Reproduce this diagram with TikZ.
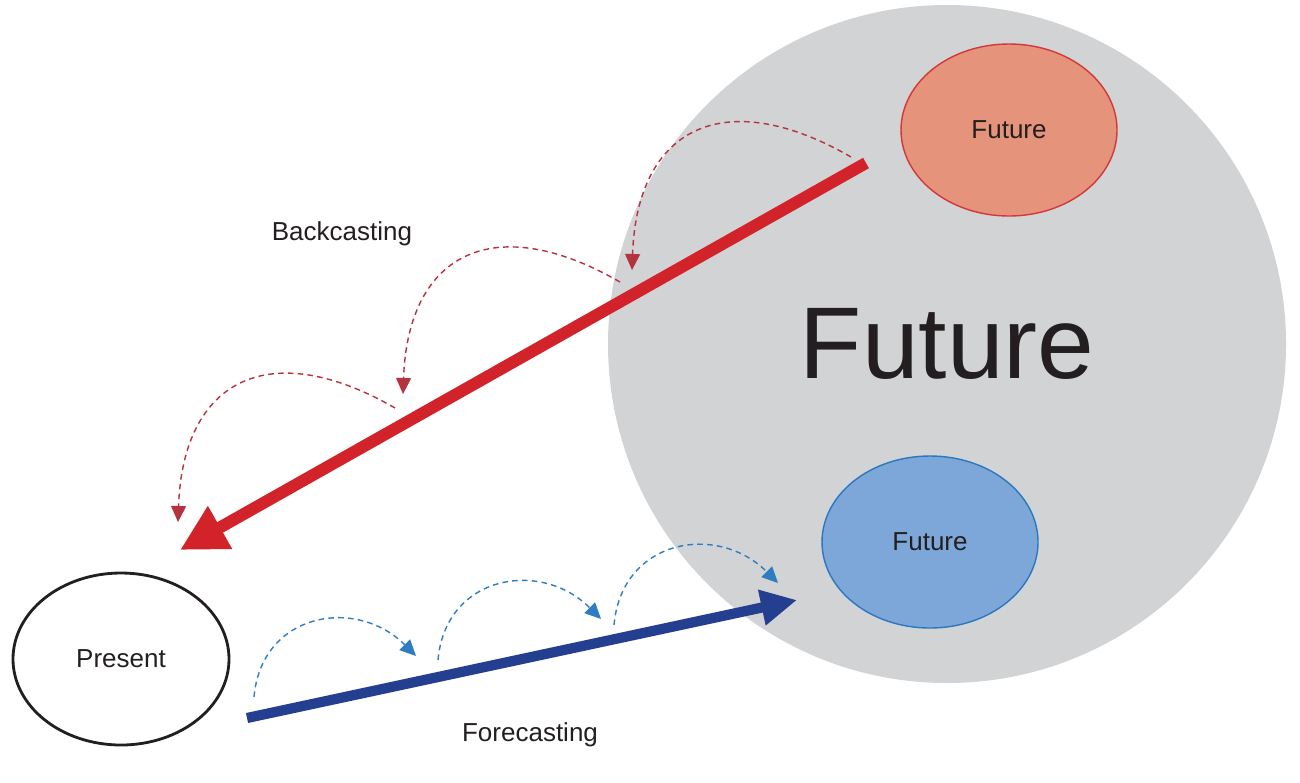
\documentclass[tikz,border=0pt]{standalone}
\usepackage{fontspec}
\setmainfont{Liberation Sans}
\definecolor{futgray}{HTML}{D1D3D4}
\definecolor{futred}{HTML}{E5937B}
\definecolor{futredline}{HTML}{D2383A}
\definecolor{futblue}{HTML}{7DA7D9}
\definecolor{futblueline}{HTML}{2B78C0}
\definecolor{backred}{HTML}{D2232A}
\definecolor{forenavy}{HTML}{243F8F}
\definecolor{hopred}{HTML}{B5333F}
\definecolor{hopblue}{HTML}{2F7DC0}
\definecolor{inkblack}{HTML}{231F20}
\usetikzlibrary{positioning, shapes.geometric, arrows.meta}
\tikzset{
	ovalnode/.style={
			ellipse,
			minimum width=2.16cm,
			minimum height=1.72cm,
			inner sep=0pt,
			text=inkblack,
			font=\fontsize{7.4}{9}\selectfont
		},
	presentnode/.style={
			ovalnode,
			draw=inkblack,
			line width=0.8pt
		},
	redfuture/.style={
			ovalnode,
			draw=futredline,
			fill=futred,
			line width=0.4pt
		},
	bluefuture/.style={
			ovalnode,
			draw=futblueline,
			fill=futblue,
			line width=0.4pt
		},
	bignode/.style={
			circle,
			fill=futgray,
			minimum size=6.78cm,
			inner sep=0pt,
			text=inkblack,
			font=\fontsize{29}{34}\selectfont
		},
	labelnode/.style={
			text=inkblack,
			font=\fontsize{7.4}{9}\selectfont
		},
	backarrow/.style={
			backred,
			line width=3.4pt,
			-{Triangle[length=4.6mm, width=4.6mm]}
		},
	forearrow/.style={
			forenavy,
			line width=2.9pt,
			-{Triangle[length=3.6mm, width=3.4mm]}
		},
	backhop/.style={
			hopred,
			line width=0.4pt,
			dash pattern=on 1.6pt off 1.2pt,
			-{Triangle[length=1.6mm, width=1.5mm]}
		},
	forehop/.style={
			hopblue,
			line width=0.4pt,
			dash pattern=on 1.6pt off 1.2pt,
			-{Triangle[length=1.6mm, width=1.5mm]}
		}
}

\begin{document}
\begin{tikzpicture}
\useasboundingbox (0,0) rectangle (13,-7.82);

\node[bignode] (big) at (9.47,-3.44) {Future};
\node[redfuture] (fr) at (10.09,-1.30) {Future};
\node[bluefuture] (fb) at (9.30,-5.42) {Future};
\node[presentnode] (pr) at (1.21,-6.59) {Present};

\node[labelnode] (bk) at (3.42,-2.34) {Backcasting};
\node[labelnode] (fc) at (5.30,-7.35) {Forecasting};

\coordinate (bs) at (8.66,-1.63);
\coordinate (be) at (1.80,-5.50);
\coordinate (fs) at (2.47,-7.18);
\coordinate (fe) at (7.97,-6.00);

\coordinate (r1) at (8.51,-1.57);
\coordinate (r2) at (6.32,-2.70);
\coordinate (r3) at (6.20,-2.82);
\coordinate (r4) at (4.03,-3.94);
\coordinate (r5) at (3.95,-4.08);
\coordinate (r6) at (1.78,-5.22);

\coordinate (b1) at (2.54,-6.97);
\coordinate (b2) at (4.16,-6.56);
\coordinate (b3) at (4.38,-6.60);
\coordinate (b4) at (6.01,-6.19);
\coordinate (b5) at (6.14,-6.25);
\coordinate (b6) at (7.78,-5.83);

\draw[backarrow] (bs) -- (be);
\draw[forearrow] (fs) -- (fe);

\draw[backhop] (r1) to[out=150, in=88, looseness=1.5] (r2);
\draw[backhop] (r3) to[out=150, in=88, looseness=1.5] (r4);
\draw[backhop] (r5) to[out=150, in=88, looseness=1.5] (r6);

\draw[forehop] (b1) to[out=85, in=135, looseness=1.3] (b2);
\draw[forehop] (b3) to[out=85, in=135, looseness=1.3] (b4);
\draw[forehop] (b5) to[out=85, in=135, looseness=1.3] (b6);
\end{tikzpicture}
\end{document}
